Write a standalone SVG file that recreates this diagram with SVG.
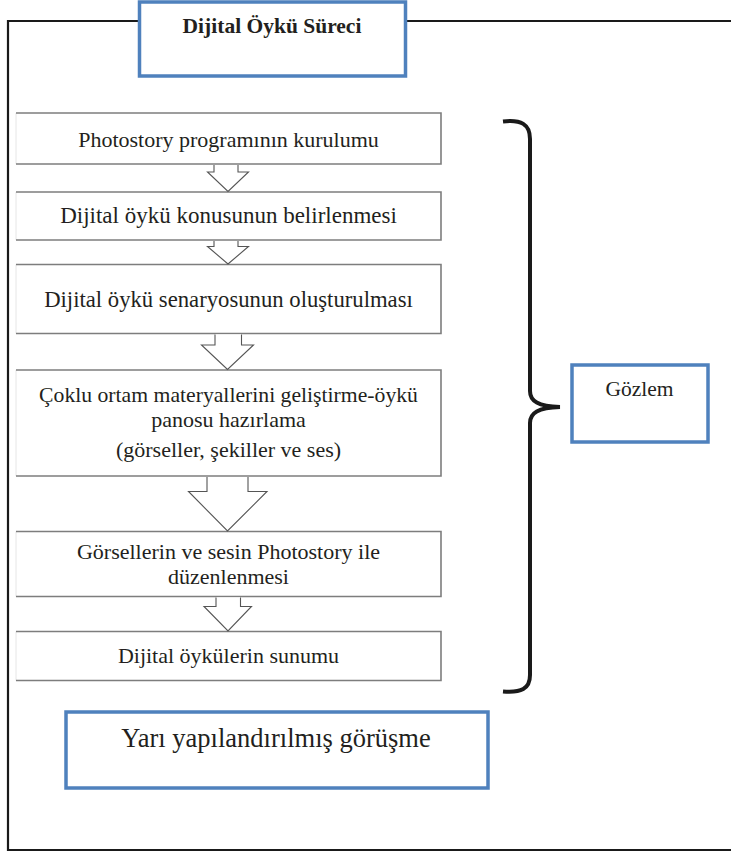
<svg xmlns="http://www.w3.org/2000/svg" width="731" height="853" viewBox="0 0 731 853">
<defs>
<style>
.t{font-family:"Liberation Serif","Times New Roman",serif;font-size:22px;fill:#231f20;text-anchor:middle}
.tb{font-weight:bold;font-size:21.5px}
.blue{fill:#fff;stroke:#4f81bd;stroke-width:3.5}
.pb{fill:#fff;stroke:none}
.pe{fill:none;stroke:#7d7d7d;stroke-width:1.6}
.pl{fill:none;stroke:#e6e6e6;stroke-width:1}
.ar{fill:#fff;stroke:#555;stroke-width:1.1;stroke-linejoin:miter}
</style>
</defs>
<rect width="731" height="853" fill="#fff"/>
<g id="frame">
<path d="M138,21 H8 V850 H731" fill="none" stroke="#1a1a1a" stroke-width="2.2"/>
<path d="M406,21 H731" fill="none" stroke="#1a1a1a" stroke-width="2.2"/>
</g>
<g id="title">
<rect class="blue" x="139.5" y="2" width="266" height="74" stroke-width="4"/>
<text class="t tb" x="272" y="33">Dijital Öykü Süreci</text>
</g>
<g id="step1">
<rect class="pb" x="16" y="113" width="425" height="51"/>
<path class="pl" d="M16,113 V164"/>
<path class="pe" d="M16,113 H441 V164 H16"/>
<text class="t" x="228.5" y="146.5">Photostory programının kurulumu</text>
</g>
<g id="step2">
<rect class="pb" x="16" y="192" width="425" height="48"/>
<path class="pl" d="M16,192 V240"/>
<path class="pe" d="M16,192 H441 V240 H16"/>
<text class="t" x="228.5" y="223" style="font-size:23px">Dijital öykü konusunun belirlenmesi</text>
</g>
<g id="step3">
<rect class="pb" x="16" y="264.5" width="425" height="69"/>
<path class="pl" d="M16,264.5 V333.5"/>
<path class="pe" d="M16,264.5 H441 V333.5 H16"/>
<text class="t" x="228.5" y="306.5" style="font-size:22.7px">Dijital öykü senaryosunun oluşturulması</text>
</g>
<g id="step4">
<rect class="pb" x="16" y="370" width="425" height="106"/>
<path class="pl" d="M16,370 V476"/>
<path class="pe" d="M16,370 H441 V476 H16"/>
<text class="t" x="228.5" y="401.5" style="font-size:21.7px">Çoklu ortam materyallerini  geliştirme-öykü</text>
<text class="t" x="228.5" y="426.5">panosu hazırlama</text>
<text class="t" x="228.5" y="457">(görseller, şekiller ve ses)</text>
</g>
<g id="step5">
<rect class="pb" x="16" y="531.5" width="425" height="65"/>
<path class="pl" d="M16,531.5 V596.5"/>
<path class="pe" d="M16,531.5 H441 V596.5 H16"/>
<text class="t" x="228.5" y="558.5">Görsellerin ve sesin Photostory ile</text>
<text class="t" x="228.5" y="583.5">düzenlenmesi</text>
</g>
<g id="step6">
<rect class="pb" x="16" y="631.5" width="425" height="49"/>
<path class="pl" d="M16,631.5 V680.5"/>
<path class="pe" d="M16,631.5 H441 V680.5 H16"/>
<text class="t" x="228.5" y="662.5">Dijital öykülerin  sunumu</text>
</g>
<g id="connectors">
<path class="ar" d="M214,165 V172 H207.5 L228,191.5 L248.5,172 H238 V165"/>
<path class="ar" d="M214,241 V246.5 H207.5 L228,264 L248.5,246.5 H238 V241"/>
<path class="ar" d="M215,334.5 V345 H201.5 L227.5,369.5 L253.5,345 H241.5 V334.5"/>
<path class="ar" d="M207,477 V491.5 H188.5 L227.5,531 L267,491.5 H248 V477"/>
<path class="ar" d="M216,597.5 V606.5 H204 L228,631 L251.5,606.5 H240.5 V597.5"/>
</g>
<g id="brace">
<path d="M503,121.5 C521,119.5 530,124 530,139 L530,391 C530,401 538,406.5 560,407 C538,407.5 530,413 530,423 L530,675 C530,689 521,693 503,691.5" fill="none" stroke="#1a1a1a" stroke-width="4"/>
</g>
<g id="gozlem">
<rect class="blue" x="572" y="365" width="136" height="77"/>
<text class="t" x="639.5" y="396" style="font-size:21.5px">Gözlem</text>
</g>
<g id="gorusme">
<rect class="blue" x="66" y="712" width="422" height="76"/>
<text class="t" x="276" y="747" style="font-size:26.5px">Yarı yapılandırılmış görüşme</text>
</g>
</svg>
